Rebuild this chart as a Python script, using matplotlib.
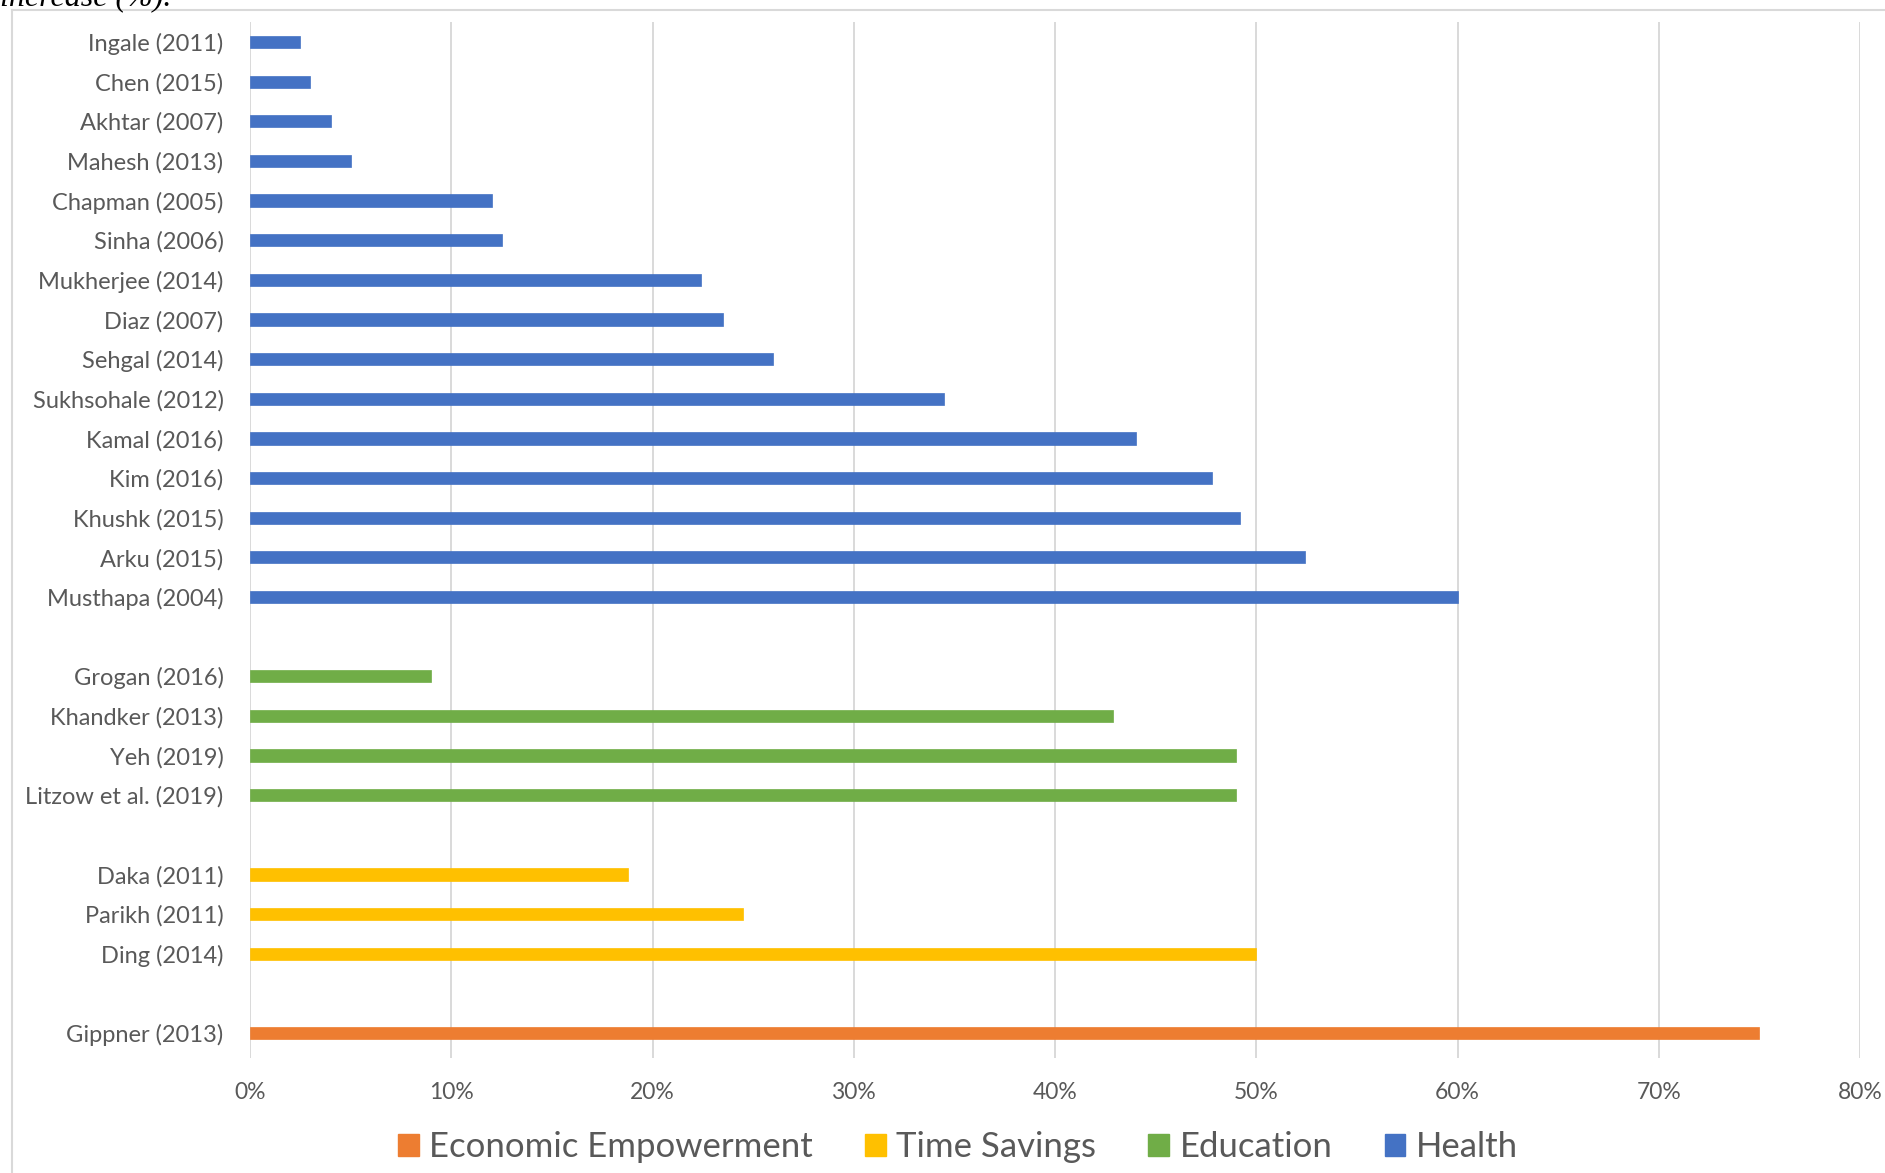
import matplotlib
matplotlib.use("Agg")
from matplotlib import pyplot as plt
from matplotlib.patches import Patch
from matplotlib.ticker import PercentFormatter
from matplotlib.lines import Line2D

plt.rcParams['font.family'] = ['Lato', 'DejaVu Sans']

# datos (incremento en %)
health_labels = ["Ingale (2011)", "Chen (2015)", "Akhtar (2007)", "Mahesh (2013)",
                 "Chapman (2005)", "Sinha (2006)", "Mukherjee (2014)", "Diaz (2007)",
                 "Sehgal (2014)", "Sukhsohale (2012)", "Kamal (2016)", "Kim (2016)",
                 "Khushk (2015)", "Arku (2015)", "Musthapa (2004)"]
health_vals = [2.5, 3.0, 4.0, 5.0, 12.0, 12.5, 22.4, 23.5, 26.0, 34.5, 44.0, 47.8, 49.2, 52.4, 60.0]

edu_labels = ["Grogan (2016)", "Khandker (2013)", "Yeh (2019)", "Litzow et al. (2019)"]
edu_vals = [9.0, 42.9, 49.0, 49.0]

time_labels = ["Daka (2011)", "Parikh (2011)", "Ding (2014)"]
time_vals = [18.8, 24.5, 50.0]

econ_labels = ["Gippner (2013)"]
econ_vals = [75.0]

groups = [("Health", health_labels, health_vals, "#4472C4"),
          ("Education", edu_labels, edu_vals, "#70AD47"),
          ("Time Savings", time_labels, time_vals, "#FFC000"),
          ("Economic Empowerment", econ_labels, econ_vals, "#ED7D31")]

W, H = 1885, 1173
fig = plt.figure(figsize=(W / 100, H / 100), dpi=100)
ax = fig.add_axes([250 / W, 1 - 1058 / H, 1610 / W, 1036 / H])

txtcol = "#595959"
ticks = []
ticklabels = []
pos = 0
for name, labs, vals, col in groups:
    ys = list(range(pos, pos + len(labs)))
    ax.barh(ys, vals, height=0.31, color=col, edgecolor=col, linewidth=0.5, zorder=3)
    ticks += ys
    ticklabels += labs
    pos += len(labs) + 1  # hueco entre grupos

ax.set_yticks(ticks)
ax.set_yticklabels(ticklabels, fontsize=17, color=txtcol)
ax.set_ylim(25.63, -0.505)
ax.set_xlim(0, 80)
ax.set_xticks(range(0, 81, 10))
ax.xaxis.set_major_formatter(PercentFormatter(decimals=0))
ax.tick_params(axis='x', labelsize=16.5, labelcolor=txtcol, length=0, pad=17)
ax.tick_params(axis='y', length=0, pad=19)
ax.grid(axis='x', color="#d9d9d9", linewidth=1.4, zorder=0)
for s in ax.spines.values():
    s.set_visible(False)

# leyenda (orden del original)
handles = [Patch(facecolor=c, edgecolor=c) for n, l, v, c in groups[::-1]]
names = [n for n, l, v, c in groups[::-1]]
fig.legend(handles, names, loc='center', bbox_to_anchor=(958 / W, 1 - 1147 / H),
           ncol=4, frameon=False, fontsize=25, labelcolor=txtcol,
           handlelength=0.6, handleheight=0.6, handletextpad=0.3, columnspacing=1.5)

# marco del area del grafico y texto cortado de arriba
fig.add_artist(Line2D([12 / W, 12 / W], [0, 1 - 10 / H], color="#d9d9d9", linewidth=1.5))
fig.add_artist(Line2D([12 / W, 1], [1 - 10 / H, 1 - 10 / H], color="#d9d9d9", linewidth=1.5))
fig.text(0, 1 - 5 / H, "increase (%).", family="Liberation Serif", style="italic",
         fontsize=23, va="baseline", ha="left", color="black")

fig.savefig("out.png", dpi=100)
